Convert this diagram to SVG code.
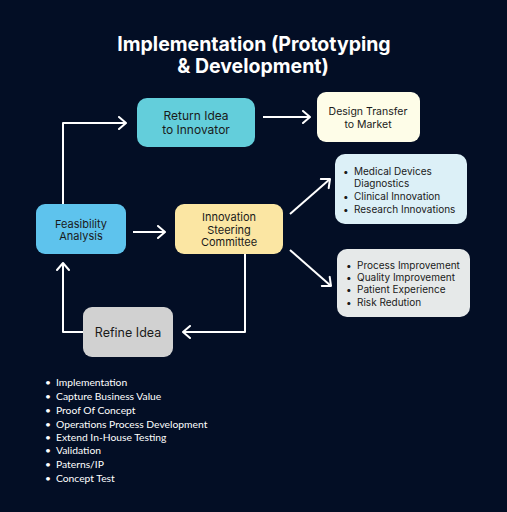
<svg xmlns="http://www.w3.org/2000/svg" width="507" height="512" viewBox="0 0 507 512">
  <defs>
    <marker id="arr" viewBox="0 0 10 14" refX="9" refY="7" markerWidth="10" markerHeight="14" markerUnits="userSpaceOnUse" orient="auto">
      <path d="M2,1 L9,7 L2,13" fill="none" stroke="#ffffff" stroke-width="2" stroke-linecap="round" stroke-linejoin="round"/>
    </marker>
    <style>
      .title { font-family: Inter, "Liberation Sans", sans-serif; font-weight: 700; font-size: 19.5px; fill: #ffffff; text-anchor: middle; }
      .node { font-family: Inter, "Liberation Sans", sans-serif; fill: #1a1a1a; text-anchor: middle; }
      .lst { font-family: Inter, "Liberation Sans", sans-serif; fill: #1a1a1a; font-size: 10px; }
      .blist { font-family: Lato, "Liberation Sans", sans-serif; fill: #ffffff; font-size: 10.3px; }
      .conn { fill: none; stroke: #ffffff; stroke-width: 2; stroke-linejoin: round; }
    </style>
  </defs>
  <rect x="0" y="0" width="507" height="512" fill="#030e25"/>

  <text class="title" x="254" y="51">Implementation (Prototyping</text>
  <text class="title" x="253" y="73">&amp; Development)</text>

  <g id="connectors">
    <path class="conn" d="M63,204 L63,123 L126,123" marker-end="url(#arr)"/>
    <path class="conn" d="M263,117 L310,117" marker-end="url(#arr)"/>
    <path class="conn" d="M133,232 L165,232" marker-end="url(#arr)"/>
    <path class="conn" d="M290,214 L330,179" marker-end="url(#arr)"/>
    <path class="conn" d="M290,250 L331,286" marker-end="url(#arr)"/>
    <path class="conn" d="M245,254 L245,332 L183,332" marker-end="url(#arr)"/>
    <path class="conn" d="M83,332 L63,332 L63,263" marker-end="url(#arr)"/>
  </g>

  <g id="return-idea">
    <rect x="137" y="98" width="118" height="49" rx="10" fill="#63cedb"/>
    <text class="node" font-size="12" x="196" y="120">Return Idea</text>
    <text class="node" font-size="12" x="196" y="134">to Innovator</text>
  </g>

  <g id="design-transfer">
    <rect x="317" y="92" width="103" height="50" rx="9" fill="#fefde8"/>
    <text class="node" font-size="10.5" x="368" y="115">Design Transfer</text>
    <text class="node" font-size="10.5" x="368" y="128">to Market</text>
  </g>

  <g id="feasibility">
    <rect x="36" y="204" width="90" height="50" rx="9" fill="#5ec3ed"/>
    <text class="node" font-size="11" x="81" y="227.5">Feasibility</text>
    <text class="node" font-size="11" x="81" y="240">Analysis</text>
  </g>

  <g id="steering-committee">
    <rect x="175" y="204" width="108" height="50" rx="9" fill="#fbe6a3"/>
    <text class="node" font-size="11" x="229" y="221">Innovation</text>
    <text class="node" font-size="11" x="229" y="233.5">Steering</text>
    <text class="node" font-size="11" x="229" y="246">Committee</text>
  </g>

  <g id="medical">
    <rect x="335" y="154" width="132" height="70" rx="10" fill="#dcf0f7"/>
    <text class="lst" x="343" y="174.5">•</text>
    <text class="lst" x="354" y="174.5">Medical Devices</text>
    <text class="lst" x="354" y="187">Diagnostics</text>
    <text class="lst" x="343" y="200">•</text>
    <text class="lst" x="354" y="200">Clinical Innovation</text>
    <text class="lst" x="343" y="213">•</text>
    <text class="lst" x="354" y="213">Research Innovations</text>
  </g>

  <g id="process">
    <rect x="337" y="249" width="133" height="68" rx="10" fill="#e6e9e9"/>
    <text class="lst" x="346" y="268.5">•</text>
    <text class="lst" x="357" y="268.5">Process Improvement</text>
    <text class="lst" x="346" y="280.5">•</text>
    <text class="lst" x="357" y="280.5">Quality Improvement</text>
    <text class="lst" x="346" y="293">•</text>
    <text class="lst" x="357" y="293">Patient Experience</text>
    <text class="lst" x="346" y="305.5">•</text>
    <text class="lst" x="357" y="305.5">Risk Redution</text>
  </g>

  <g id="refine-idea">
    <rect x="83" y="307" width="90" height="50" rx="9" fill="#d1d1d1"/>
    <text class="node" font-size="12.5" x="128" y="336.5">Refine Idea</text>
  </g>

  <g id="activities">
    <text class="blist" x="45" y="386">•</text><text class="blist" x="56" y="386">Implementation</text>
    <text class="blist" x="45" y="400">•</text><text class="blist" x="56" y="400">Capture Business Value</text>
    <text class="blist" x="45" y="413.5">•</text><text class="blist" x="56" y="413.5">Proof Of Concept</text>
    <text class="blist" x="45" y="427.5">•</text><text class="blist" x="56" y="427.5">Operations Process Development</text>
    <text class="blist" x="45" y="440.5">•</text><text class="blist" x="56" y="440.5">Extend In-House Testing</text>
    <text class="blist" x="45" y="454">•</text><text class="blist" x="56" y="454">Validation</text>
    <text class="blist" x="45" y="468">•</text><text class="blist" x="56" y="468">Paterns/IP</text>
    <text class="blist" x="45" y="481.5">•</text><text class="blist" x="56" y="481.5">Concept Test</text>
  </g>
</svg>
